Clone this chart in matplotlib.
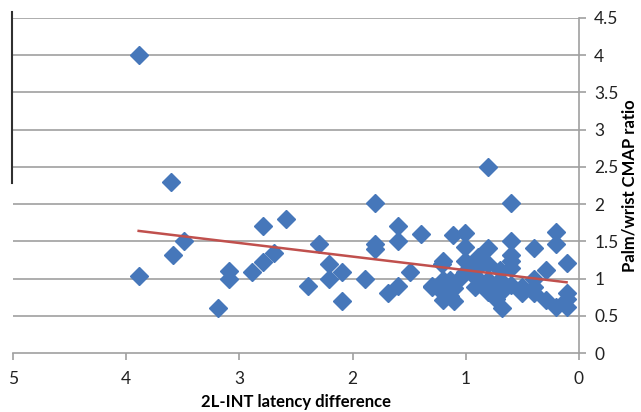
import matplotlib.pyplot as plt
from matplotlib.lines import Line2D

blue = '#4677BA'
red = '#C0504D'
grid_gray = '#A0A0A0'

# latency difference (x) and palm/wrist ratio (y)
latency = [3.89, 3.89, 3.60, 3.59, 3.49, 3.19, 3.09, 3.09, 2.89, 2.79,
           2.79, 2.69, 2.59, 2.39, 2.30, 2.21, 2.21, 2.09, 2.09, 1.89,
           1.80, 1.80, 1.80, 1.69, 1.60, 1.60, 1.60, 1.49, 1.40, 1.30,
           1.30, 1.21, 1.20, 1.20, 1.20, 1.20, 1.14, 1.14, 1.14, 1.11,
           1.10, 1.10, 1.06, 1.01, 1.01, 1.01, 1.01, 0.92, 0.92, 0.90,
           0.89, 0.89, 0.80, 0.80, 0.80, 0.80, 0.80, 0.80, 0.79, 0.73,
           0.70, 0.70, 0.70, 0.68, 0.60, 0.60, 0.60, 0.60, 0.60, 0.60,
           0.50, 0.50, 0.40, 0.40, 0.40, 0.40, 0.29, 0.29, 0.20, 0.20,
           0.20, 0.11, 0.11, 0.11, 0.11]
ratio = [4.00, 1.04, 2.30, 1.31, 1.50, 0.61, 1.10, 0.99, 1.09, 1.22,
         1.70, 1.34, 1.80, 0.90, 1.47, 1.20, 1.00, 1.09, 0.70, 0.99,
         2.01, 1.46, 1.40, 0.80, 1.71, 1.50, 0.90, 1.09, 1.60, 0.90,
         0.89, 1.20, 1.23, 0.98, 0.80, 0.71, 0.98, 0.89, 0.76, 1.59,
         0.87, 0.70, 1.00, 1.61, 1.43, 1.23, 1.09, 1.03, 0.89, 1.00,
         1.29, 1.16, 2.50, 1.41, 1.20, 0.89, 0.82, 0.98, 0.87, 0.73,
         1.12, 0.98, 0.80, 0.60, 2.01, 1.50, 1.32, 1.23, 1.14, 0.91,
         0.89, 0.80, 1.41, 1.00, 0.89, 0.80, 1.12, 0.71, 1.62, 1.46,
         0.62, 1.21, 0.81, 0.72, 0.62]

# linear trend line end points
trend_x = [3.89, 0.11]
trend_y = [1.64, 0.95]

x_ticks = [5, 4, 3, 2, 1, 0]
y_ticks = [0, 0.5, 1, 1.5, 2, 2.5, 3, 3.5, 4, 4.5]

plt.rcParams['font.family'] = ['Lato', 'DejaVu Sans']

fig = plt.figure(figsize=(6.41, 4.12), dpi=100)
ax = fig.add_axes([13 / 641, 1 - 353 / 412, (579 - 13) / 641, (353 - 18) / 412])

ax.plot(latency, ratio, linestyle='none', marker='D', markersize=9,
        color=blue, markeredgecolor=blue, zorder=3)
ax.plot(trend_x, trend_y, color=red, linewidth=1.8, zorder=4)

ax.set_xlim(5, 0)
ax.set_ylim(0, 4.5)
ax.set_xticks(x_ticks)
ax.set_xticklabels([str(v) for v in x_ticks])
ax.set_yticks(y_ticks)
ax.set_yticklabels(['%g' % v for v in y_ticks])

ax.yaxis.tick_right()
ax.yaxis.set_label_position('right')
for g in y_ticks[1:]:
    ax.axhline(g, color=grid_gray, linewidth=1.2, zorder=1)

for s in ['top', 'left']:
    ax.spines[s].set_visible(False)
for s in ['right', 'bottom']:
    ax.spines[s].set_color(grid_gray)
    ax.spines[s].set_linewidth(1.2)

ax.tick_params(axis='x', direction='out', length=5, width=1.2, color=grid_gray,
               labelsize=12.5, labelcolor='#222222', pad=8)
ax.tick_params(axis='y', direction='out', length=5, width=1.2, color=grid_gray,
               labelsize=12.5, labelcolor='#222222', pad=6)

ax.set_xlabel('2L-INT latency difference', fontsize=12, fontweight='bold', labelpad=5)
ax.set_ylabel('Palm/wrist CMAP ratio', fontsize=12, fontweight='bold', labelpad=2)

# stray border line on the left side of the image
fig.add_artist(Line2D([12 / 641, 12 / 641], [1 - 12 / 412, 1 - 183 / 412],
                      color='#303030', linewidth=1.5))

fig.savefig('out.png', dpi=100)
